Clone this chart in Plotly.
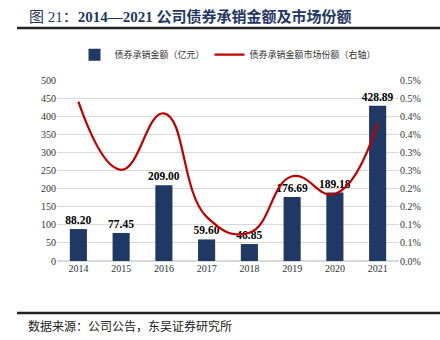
import plotly.graph_objects as go

years = ["2014", "2015", "2016", "2017", "2018", "2019", "2020", "2021"]
amount = [88.20, 77.45, 209.00, 59.60, 46.85, 176.69, 189.18, 428.89]
share = [0.44, 0.252, 0.408, 0.122, 0.078, 0.234, 0.185, 0.38]
left_ticks = [0, 50, 100, 150, 200, 250, 300, 350, 400, 450, 500]
right_ticks = [0, 0.05, 0.1, 0.15, 0.2, 0.25, 0.3, 0.35, 0.4, 0.45, 0.5]
right_text = ["0.0%", "0.1%", "0.1%", "0.2%", "0.2%", "0.3%", "0.3%", "0.4%", "0.4%", "0.5%", "0.5%"]

serif = "Liberation Serif, Noto Sans CJK SC"
navy = "#203864"
red = "#C00000"

fig = go.Figure()
fig.add_trace(go.Bar(
    x=years, y=amount, name="债券承销金额（亿元）",
    marker=dict(color=navy, line=dict(width=0)), width=0.4,
    text=[f"<b>{v:.2f}</b>" for v in amount], textposition="outside",
    constraintext="none",
    textfont=dict(family=serif, size=11.5, color="black"),
    cliponaxis=False,
))
fig.add_trace(go.Scatter(
    x=years, y=share, name="债券承销金额市场份额（右轴）", yaxis="y2",
    mode="lines", line=dict(color=red, width=2.2, shape="spline", smoothing=1.3),
))

fig.update_layout(
    width=440, height=340,
    margin=dict(l=57, r=41, t=80, b=79),
    plot_bgcolor="white", paper_bgcolor="white",
    font=dict(family=serif, size=10, color="#333333"),
    showlegend=True,
    legend=dict(orientation="h", x=0.5, xanchor="center", y=1.06, yanchor="bottom",
                font=dict(family="Noto Sans CJK SC", size=9, color="#333333"),
                itemwidth=30, traceorder="normal"),
    xaxis=dict(showgrid=False, showline=False, ticks="", tickfont=dict(family=serif, size=10, color="#333333")),
    yaxis=dict(range=[0, 500], tickvals=left_ticks, showgrid=True, gridcolor="#d9d9d9",
               gridwidth=1, zeroline=True, zerolinecolor="#d9d9d9", ticks="",
               tickfont=dict(family=serif, size=10, color="#333333")),
    yaxis2=dict(range=[0, 0.5], overlaying="y", side="right", tickvals=right_ticks,
                ticktext=right_text, showgrid=False, zeroline=False, ticks="",
                tickfont=dict(family=serif, size=10, color="#333333")),
    bargap=0.6,
)

fig.add_annotation(xref="paper", yref="paper", x=(27-57)/342, y=1 + (80-16)/181, xanchor="left", yanchor="middle",
                   showarrow=False,
                   text="图 21：<b>2014—2021 公司债券承销金额及市场份额</b>",
                   font=dict(family="Liberation Serif, Noto Sans CJK SC", size=15, color="#1F3864"))
fig.add_annotation(xref="paper", yref="paper", x=(26-57)/342, y=-(325-261)/181, xanchor="left", yanchor="middle",
                   showarrow=False, text="数据来源：公司公告，东吴证券研究所",
                   font=dict(family="Noto Sans CJK SC", size=12, color="#222222"))
fig.add_shape(type="line", xref="paper", yref="paper", x0=(17-57)/342, x1=(440-57)/342,
              y0=1 + (80-28)/181, y1=1 + (80-28)/181, line=dict(color="#222222", width=2.5))
fig.add_shape(type="line", xref="paper", yref="paper", x0=(17-57)/342, x1=(440-57)/342,
              y0=-(313-261)/181, y1=-(313-261)/181, line=dict(color="#222222", width=2.5))

fig.write_html("out.html")
